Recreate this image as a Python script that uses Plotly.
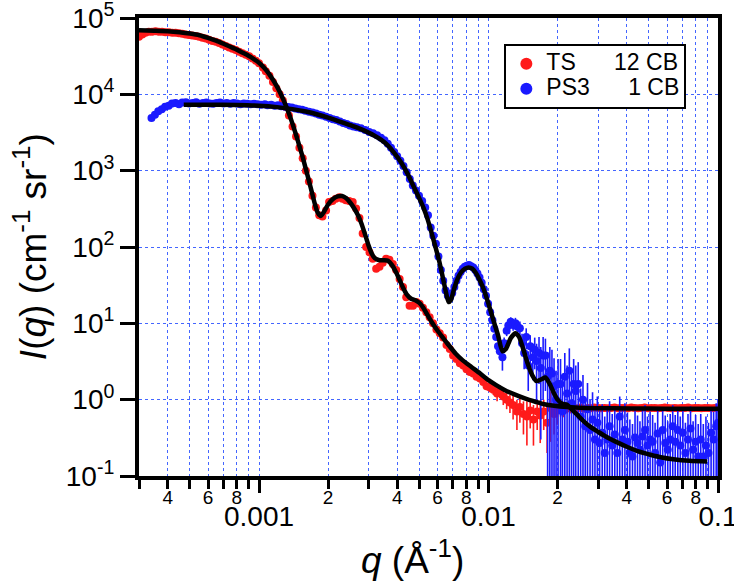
import numpy as np
import plotly.graph_objects as go

# --- TS (12 CB), red ---
ts_q = [
    0.000300, 0.000310, 0.000320, 0.000331, 0.000342, 0.000354, 0.000366, 0.000378, 0.000391, 0.000405,
    0.000419, 0.000433, 0.000448, 0.000463, 0.000479, 0.000495, 0.000512, 0.000530, 0.000548, 0.000567,
    0.000586, 0.000606, 0.000627, 0.000648, 0.000670, 0.000693, 0.000717, 0.000741, 0.000766, 0.000792,
    0.000819, 0.000847, 0.000876, 0.000906, 0.000937, 0.000969, 0.00100, 0.00104, 0.00107, 0.00111,
    0.00115, 0.00119, 0.00123, 0.00127, 0.00131, 0.00135, 0.00140, 0.00145, 0.00150, 0.00155,
    0.00160, 0.00165, 0.00171, 0.00177, 0.00183, 0.00189, 0.00196, 0.00202, 0.00209, 0.00216,
    0.00224, 0.00231, 0.00239, 0.00247, 0.00256, 0.00265, 0.00274, 0.00283, 0.00293, 0.00303,
    0.00313, 0.00324, 0.00335, 0.00346, 0.00358, 0.00370, 0.00383, 0.00396, 0.00410, 0.00424,
    0.00438, 0.00453, 0.00469, 0.00485, 0.00501, 0.00518, 0.00536, 0.00554, 0.00573, 0.00593,
    0.00613, 0.00634, 0.00656, 0.00678, 0.00701, 0.00725, 0.00750, 0.00776, 0.00802, 0.00830,
    0.00858, 0.00887, 0.00918, 0.00949, 0.00981,
]
ts_i = [
    57000, 61000, 64000, 66000, 66000, 67000, 66000, 66000, 65000, 65000,
    64000, 64000, 63000, 62000, 61000, 60000, 59000, 58000, 57000, 55000,
    54000, 52000, 50000, 49000, 47000, 45000, 43000, 41000, 39500, 38000,
    36000, 34500, 33000, 31500, 29500, 27500, 25500, 22500, 20000, 17500,
    14500, 12000, 10000, 8300, 6800, 5300, 3800, 2800, 2000, 1450,
    1000, 720, 470, 330, 260, 250, 300, 390, 400, 430,
    450, 430, 410, 400, 390, 320, 240, 150, 100, 85,
    70, 52, 55, 62, 70, 68, 60, 50, 38, 30,
    22, 17, 17, 19, 18, 16, 14, 12, 10, 8.3,
    7.4, 6.5, 5.2, 4.6, 3.8, 3.4, 3.0, 2.8, 2.5, 2.3,
    2.2, 2.0, 1.9, 1.7, 1.5,
]
ts_tail_q = [
    0.0101, 0.0105, 0.0109, 0.0112, 0.0116,
    0.0120, 0.0124, 0.0128, 0.0133, 0.0137, 0.0142, 0.0147, 0.0152, 0.0157, 0.0163,
    0.0168, 0.0174, 0.0180, 0.0186, 0.0193, 0.0199, 0.0206, 0.0213, 0.0220, 0.0228,
    0.0236, 0.0244, 0.0252, 0.0261, 0.0270, 0.0279, 0.0289, 0.0299, 0.0309, 0.0320,
    0.0331, 0.0342, 0.0354, 0.0366, 0.0378, 0.0391, 0.0405, 0.0419, 0.0433, 0.0448,
    0.0463, 0.0479, 0.0495, 0.0512, 0.0530, 0.0548, 0.0567, 0.0586, 0.0606, 0.0627,
    0.0648, 0.0670, 0.0693, 0.0717, 0.0741, 0.0766, 0.0792, 0.0819, 0.0847, 0.0876,
    0.0906, 0.0937, 0.0969, 0.100,
]
ts_tail_i = [
    1.45, 1.35, 1.2, 1.3, 1.1,
    1.0, 0.92, 0.85, 0.7, 0.8, 0.65, 0.6, 0.72, 0.55, 0.7,
    0.62, 0.7, 0.5, 0.78, 0.65, 0.72, 0.8, 0.74, 0.78, 0.76,
    0.78, 0.77, 0.79, 0.76, 0.78, 0.77, 0.79, 0.78, 0.77, 0.78,
    0.77, 0.78, 0.79, 0.77, 0.78, 0.78, 0.77, 0.79, 0.78, 0.77,
    0.78, 0.79, 0.77, 0.78, 0.78, 0.77, 0.78, 0.79, 0.78, 0.77,
    0.78, 0.77, 0.78, 0.78, 0.79, 0.77, 0.78, 0.78, 0.77, 0.78,
    0.78, 0.77, 0.78, 0.77,
]
ts_tail_err = [
    0.2, 0.2, 0.25, 0.25, 0.25,
    0.25, 0.25, 0.3, 0.3, 0.3, 0.3, 0.35, 0.3, 0.3, 0.3,
    0.35, 0.3, 0.3, 0.5, 0.3, 0.25, 0.2, 0.15, 0.12, 0.1,
    0.06, 0.05, 0.05, 0.06, 0.05, 0.05, 0.04, 0.05, 0.05, 0.05,
    0.05, 0.04, 0.05, 0.05, 0.06, 0.05, 0.05, 0.04, 0.05, 0.05,
    0.05, 0.05, 0.04, 0.05, 0.05, 0.06, 0.05, 0.05, 0.05, 0.04,
    0.05, 0.05, 0.05, 0.06, 0.05, 0.05, 0.04, 0.05, 0.05, 0.05,
    0.05, 0.05, 0.06, 0.05,
]
ts_fit_q = [
    0.00030, 0.00035, 0.00040, 0.00045, 0.00050, 0.00055, 0.00060, 0.00065, 0.00070, 0.00075,
    0.00080, 0.00085, 0.00090, 0.00095, 0.00100, 0.00105, 0.00110, 0.00115, 0.00120, 0.00125,
    0.00130, 0.00135, 0.00140, 0.00145, 0.00150, 0.00155, 0.00160, 0.00165, 0.00170, 0.00175,
    0.00180, 0.00186, 0.00192, 0.00200, 0.00210, 0.00220, 0.00230, 0.00240, 0.00250, 0.00260,
    0.00270, 0.00280, 0.00290, 0.00300, 0.00310, 0.00320, 0.00335, 0.00350, 0.00365, 0.00380,
    0.00395, 0.00410, 0.00425, 0.00440, 0.00460, 0.00480, 0.00500, 0.00520, 0.00545, 0.00570,
    0.00600, 0.00630, 0.00670, 0.00720, 0.00770, 0.00840, 0.00920, 0.0100, 0.0108, 0.0118,
    0.0129, 0.0145, 0.0160, 0.0175, 0.0193, 0.0220, 0.0260, 0.0350, 0.0500, 0.0700, 0.100,
]
ts_fit_i = [
    69000, 68000, 67000, 65000, 62500, 59500, 55000, 50500, 46000, 42000,
    38500, 35000, 32000, 29000, 26000, 22500, 19000, 15500, 12500, 9800,
    7500, 5600, 4100, 2950, 2100, 1500, 1050, 740, 520, 370,
    285, 255, 290, 360, 425, 460, 465, 435, 380, 320,
    260, 200, 145, 105, 82, 71, 67, 67, 66, 58,
    47, 37, 29, 24, 21, 20, 18.5, 16, 12.5, 10,
    8.0, 6.6, 5.2, 4.0, 3.3, 2.7, 2.2, 1.8, 1.55, 1.33,
    1.18, 1.03, 0.94, 0.87, 0.83, 0.80, 0.78, 0.77, 0.765, 0.76, 0.76,
]

# --- PS3 (1 CB), blue ---
ps3_q = [
    0.000340, 0.000352, 0.000364, 0.000377, 0.000390, 0.000404, 0.000418, 0.000433, 0.000448, 0.000463,
    0.000480, 0.000496, 0.000514, 0.000532, 0.000550, 0.000570, 0.000589, 0.000610, 0.000631, 0.000653,
    0.000676, 0.000700, 0.000724, 0.000749, 0.000775, 0.000802, 0.000830, 0.000859, 0.000889, 0.000920,
    0.000952, 0.000986, 0.00102, 0.00106, 0.00109, 0.00113, 0.00117, 0.00121, 0.00125, 0.00130,
    0.00134, 0.00139, 0.00144, 0.00149, 0.00154, 0.00159, 0.00165, 0.00171, 0.00177, 0.00183,
    0.00189, 0.00196, 0.00203, 0.00210, 0.00217, 0.00225, 0.00233, 0.00241, 0.00249, 0.00258,
    0.00267, 0.00278, 0.00290, 0.00302, 0.00314, 0.00327, 0.00340, 0.00352, 0.00364, 0.00376,
    0.00388, 0.00400, 0.00413, 0.00426, 0.00440, 0.00454, 0.00468, 0.00483, 0.00498, 0.00514,
    0.00530, 0.00545, 0.00560, 0.00575, 0.00590, 0.00605, 0.00620, 0.00635, 0.00650, 0.00665,
    0.00680, 0.00695, 0.00710, 0.00725, 0.00740, 0.00756, 0.00772, 0.00788, 0.00805, 0.00822,
    0.00840, 0.00858, 0.00876, 0.00895, 0.00914, 0.00934, 0.00954, 0.00975, 0.00996, 0.01017,
]
ps3_i = [
    4900, 5400, 6000, 6400, 6900, 7100, 7600, 7700, 7400, 7800,
    7900, 7600, 7700, 7900, 7500, 7700, 7800, 7600, 7500, 7700,
    7800, 7600, 7700, 7500, 7700, 7600, 7400, 7600, 7500, 7400,
    7500, 7400, 7300, 7400, 7200, 7300, 7100, 7200, 7000, 6900,
    6800, 6700, 6500, 6400, 6300, 6100, 5900, 5800, 5600, 5400,
    5300, 5100, 4900, 4700, 4600, 4400, 4200, 4100, 3900, 3800,
    3700, 3600, 3400, 3200, 3100, 2900, 2700, 2500, 2250, 2000,
    1750, 1550, 1350, 1150, 950, 780, 640, 550, 470, 400,
    330, 260, 180, 140, 110, 75, 50, 36, 27, 23,
    22, 25, 30, 36, 42, 47, 52, 55, 57, 58,
    56, 54, 50, 45, 40, 34, 28, 23, 18, 14,
]
ps3_tail_q = [
    0.0104, 0.0106, 0.0108, 0.0110, 0.0112, 0.0115, 0.0117, 0.0120, 0.0122, 0.0125,
    0.0128, 0.0131, 0.0134, 0.0137, 0.0140, 0.0143, 0.0146, 0.0149, 0.0152, 0.0156,
    0.0159, 0.0162, 0.0166, 0.0169, 0.0173, 0.0177, 0.0181, 0.0185, 0.0189, 0.0193,
    0.0197, 0.0201, 0.0206, 0.0210, 0.0215, 0.0220, 0.0225, 0.0230, 0.0235, 0.0240,
    0.0246, 0.0252, 0.0258, 0.0264, 0.0270, 0.0277, 0.0284, 0.0291, 0.0298, 0.0305,
    0.0313, 0.0321, 0.0329, 0.0337, 0.0346, 0.0355, 0.0364, 0.0373, 0.0383, 0.0393,
    0.0403, 0.0413, 0.0424, 0.0435, 0.0446, 0.0457, 0.0469, 0.0481, 0.0493, 0.0506,
    0.0519, 0.0532, 0.0546, 0.0560, 0.0574, 0.0589, 0.0604, 0.0619, 0.0635, 0.0651,
    0.0668, 0.0685, 0.0703, 0.0721, 0.0740, 0.0759, 0.0779, 0.0799, 0.0820, 0.0841,
    0.0863, 0.0886, 0.0909, 0.0933, 0.0957, 0.0982, 0.100,
]
ps3_tail_i = [
    11, 8.5, 6.6, 5.0, 4.3, 3.6, 5.5, 8.0, 9.4, 10.5,
    9.5, 10, 9.0, 8.6, 5.5, 4.1, 6.6, 2.8, 5.0, 3.6,
    4.5, 3.2, 4.1, 2.6, 3.8, 3.8, 2.0, 2.4, 2.2, 1.5,
    1.0, 1.6, 1.6, 0.7, 2.0, 1.2, 2.4, 0.9, 1.6, 1.3,
    1.6, 0.6, 1.0, 0.45, 0.75, 0.4, 0.55, 0.3, 0.5, 0.27,
    0.37, 0.2, 0.3, 0.45, 0.25, 0.35, 0.2, 0.6, 0.3, 0.4,
    0.28, 0.2, 0.18, 0.32, 0.27, 0.22, 0.33, 0.4, 0.25, 0.3,
    0.28, 0.2, 0.36, 0.15, 0.4, 0.27, 0.22, 0.3, 0.45, 0.28,
    0.4, 0.25, 0.37, 0.2, 0.3, 0.42, 0.22, 0.28, 0.18, 0.3,
    0.18, 0.25, 0.2, 0.37, 0.3, 0.45, 0.5,
]
ps3_tail_err = [
    0.3, 0.3, 0.4, 0.5, 0.8, 1.2, 1.0, 1.2, 1.5, 1.5,
    1.5, 1.8, 1.8, 2.0, 1.8, 1.6, 2.0, 1.5, 2.0, 1.8,
    2.0, 2.2, 2.5, 2.3, 2.8, 2.5, 2.2, 2.5, 2.3, 2.0,
    1.4, 1.8, 1.8, 1.2, 2.1, 1.6, 2.3, 1.3, 1.8, 1.5,
    1.5, 0.8, 1.1, 0.6, 0.9, 0.6, 0.7, 0.5, 0.6, 0.45,
    0.5, 0.4, 0.45, 0.5, 0.4, 0.45, 0.4, 0.5, 0.45, 0.5,
    0.4, 0.35, 0.3, 0.4, 0.35, 0.3, 0.4, 0.45, 0.35, 0.4,
    0.35, 0.3, 0.4, 0.25, 0.4, 0.35, 0.3, 0.35, 0.4, 0.35,
    0.4, 0.35, 0.4, 0.3, 0.35, 0.4, 0.3, 0.35, 0.3, 0.35,
    0.3, 0.35, 0.3, 0.4, 0.4, 0.45, 0.5,
]
ps3_fit_q = [
    0.00047, 0.00060, 0.00080, 0.00100, 0.00120, 0.00140, 0.00160, 0.00180, 0.00200, 0.00220,
    0.00250, 0.00278, 0.00300, 0.00320, 0.00340, 0.00364, 0.00386, 0.00415, 0.00445, 0.00472,
    0.00500, 0.00520, 0.00543, 0.00566, 0.00590, 0.00610, 0.00630, 0.00650, 0.00670, 0.00685,
    0.00705, 0.00730, 0.00757, 0.00790, 0.00819, 0.00850, 0.00880, 0.00910, 0.00953, 0.0100,
    0.0105, 0.0110, 0.0115, 0.0119, 0.0125, 0.0131, 0.0136, 0.0142, 0.0148, 0.0155,
    0.0162, 0.0170, 0.0177, 0.0185, 0.0192, 0.0200, 0.0210, 0.0220, 0.0230, 0.0244,
    0.0260, 0.0278, 0.0300, 0.0330, 0.0360, 0.0403, 0.0450, 0.0507, 0.0570, 0.0638,
    0.0750, 0.0897,
]
ps3_fit_i = [
    7300, 7300, 7250, 7100, 6800, 6400, 5950, 5450, 4950, 4500,
    3950, 3500, 3150, 2850, 2550, 2150, 1750, 1300, 900, 620,
    430, 330, 230, 150, 95, 65, 42, 27, 19, 20,
    27, 37, 46, 52, 54, 52, 46, 38, 28, 18,
    11, 7.0, 4.3, 4.6, 6.4, 7.4, 6.6, 4.5, 3.0, 2.1,
    1.75, 1.85, 1.95, 1.6, 1.25, 1.0, 0.88, 0.86, 0.75, 0.63,
    0.52, 0.44, 0.38, 0.32, 0.28, 0.24, 0.21, 0.19, 0.175, 0.166,
    0.158, 0.155,
]

# --- axes ---
x_tick_vals = [0.0003, 0.0004, 0.0005, 0.0006, 0.0007, 0.0008, 0.0009,
               0.001, 0.002, 0.003, 0.004, 0.005, 0.006, 0.007, 0.008, 0.009,
               0.01, 0.02, 0.03, 0.04, 0.05, 0.06, 0.07, 0.08, 0.09, 0.1]
x_tick_text = ['', '4', '', '6', '', '8', '',
               '', '2', '', '4', '', '6', '', '8', '',
               '', '2', '', '4', '', '6', '', '8', '', '']
decade_vals = [0.001, 0.01, 0.1]
decade_text = ['0.001', '0.01', '0.1']
y_tick_vals = [0.1, 1, 10, 100, 1000, 10000, 100000]
y_tick_text = ['10<sup>-1</sup>', '10<sup>0</sup>', '10<sup>1</sup>', '10<sup>2</sup>',
               '10<sup>3</sup>', '10<sup>4</sup>', '10<sup>5</sup>']

RED = '#ff1a1a'
BLUE = '#1a1aff'
GRID = '#4466ff'
FONT = 'Liberation Sans, Arial, Helvetica, sans-serif'
x_range = [np.log10(0.0003), -1]
SP = '&nbsp;' * 6


def legend_name(left, right):
    # legend font stays small so rows pack tightly; the visible text is larger
    return "<span style='font-size:23px'>" + left + SP + right + "</span>"


fig = go.Figure()

fig.add_trace(go.Scatter(
    x=ts_q, y=ts_i, mode='markers', name=legend_name('TS', '12 CB'),
    marker=dict(color=RED, size=8)))
fig.add_trace(go.Scatter(
    x=ts_tail_q, y=ts_tail_i, mode='markers', showlegend=False,
    marker=dict(color=RED, size=8),
    error_y=dict(type='data', array=ts_tail_err, color=RED, thickness=1.6, width=0)))
fig.add_trace(go.Scatter(
    x=ps3_q, y=ps3_i, mode='markers', name=legend_name('PS3', '1 CB'),
    marker=dict(color=BLUE, size=8)))
fig.add_trace(go.Scatter(
    x=ps3_tail_q, y=ps3_tail_i, mode='markers', showlegend=False,
    marker=dict(color=BLUE, size=8),
    error_y=dict(type='data', array=ps3_tail_err, color=BLUE, thickness=1.6, width=0)))

# fits drawn on the overlaying axis so they sit above the points
fig.add_trace(go.Scatter(
    x=ts_fit_q, y=ts_fit_i, mode='lines', showlegend=False, xaxis='x2',
    line=dict(color='black', width=4.5, shape='spline', smoothing=0.6)))
fig.add_trace(go.Scatter(
    x=ps3_fit_q, y=ps3_fit_i, mode='lines', showlegend=False, xaxis='x2',
    line=dict(color='black', width=4.5, shape='spline', smoothing=0.6)))

fig.update_layout(
    width=734, height=587,
    margin=dict(l=139, r=16, t=18, b=111),
    paper_bgcolor='white', plot_bgcolor='white',
    font=dict(family=FONT, color='black'),
    xaxis=dict(
        type='log', range=x_range, automargin=False,
        tickvals=x_tick_vals, ticktext=x_tick_text,
        tickfont=dict(size=19), ticks='outside', ticklen=9, tickwidth=3, tickcolor='black',
        ticklabelstandoff=-8,
        showgrid=True, gridcolor=GRID, gridwidth=1, griddash='dot',
        showline=True, linewidth=4, linecolor='black', mirror=True, zeroline=False),
    xaxis2=dict(
        type='log', range=x_range, overlaying='x', anchor='y', side='bottom', automargin=False,
        tickvals=decade_vals, ticktext=decade_text, ticklabeloverflow='allow',
        tickfont=dict(size=28), ticks='outside', ticklen=16, tickwidth=3, tickcolor='black',
        ticklabelstandoff=-1, showgrid=False, showline=False, zeroline=False),
    yaxis=dict(
        type='log', range=[-1, 5], automargin=False, ticklabeloverflow='allow',
        tickvals=y_tick_vals, ticktext=y_tick_text,
        tickfont=dict(size=28), ticks='outside', ticklen=15, tickwidth=3, tickcolor='black',
        showgrid=True, gridcolor=GRID, gridwidth=1, griddash='dot',
        showline=True, linewidth=4, linecolor='black', mirror=True, zeroline=False),
    legend=dict(
        x=0.631, y=0.943, xanchor='left', yanchor='top',
        bgcolor='white', bordercolor='black', borderwidth=2,
        font=dict(size=17), itemsizing='constant', tracegroupgap=0),
    annotations=[
        dict(text='<i>q</i> (Å<sup>-1</sup>)', xref='paper', yref='paper',
             x=0.473, y=-0.177, xanchor='center', yanchor='middle',
             showarrow=False, font=dict(size=37)),
        dict(text='<i>I</i>(<i>q</i>) (cm<sup>-1</sup> sr<sup>-1</sup>)', xref='paper', yref='paper',
             x=-0.188, y=0.5, xanchor='center', yanchor='middle', textangle=-90,
             showarrow=False, font=dict(size=37)),
    ],
)

# drop the browser's default 8px body margin so the figure sits at the page corner
fig.write_html('out.html', config={'displayModeBar': False},
               post_script="document.body.style.margin='0';")
